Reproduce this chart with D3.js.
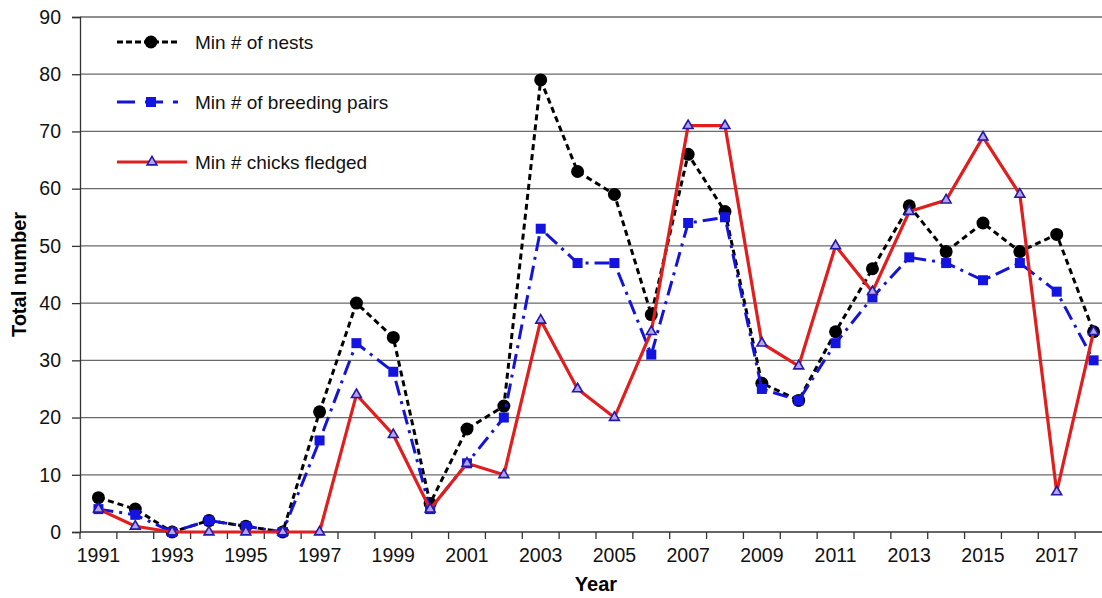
<!DOCTYPE html>
<html>
<head>
<meta charset="utf-8">
<script src="https://cdn.jsdelivr.net/npm/d3@7"></script>
<style>
  html, body { margin: 0; padding: 0; background: #fff; }
  svg { display: block; font-family: "Liberation Sans", Arial, sans-serif; }
</style>
</head>
<body>
<div id="chart"></div>
<script>
// Seabird nesting counts by year
const years = d3.range(1991, 2019);
const nests = [6, 4, 0, 2, 1, 0, 21, 40, 34, 5, 18, 22, 79, 63, 59, 38, 66, 56, 26, 23, 35, 46, 57, 49, 54, 49, 52, 35];
const pairs = [4, 3, 0, 2, 1, 0, 16, 33, 28, 4, 12, 20, 53, 47, 47, 31, 54, 55, 25, 23, 33, 41, 48, 47, 44, 47, 42, 30];
const chicks = [4, 1, 0, 0, 0, 0, 0, 24, 17, 4, 12, 10, 37, 25, 20, 35, 71, 71, 33, 29, 50, 42, 56, 58, 69, 59, 7, 35];
const yTicks = [0, 10, 20, 30, 40, 50, 60, 70, 80, 90];
const seriesNames = ['Min # of nests', 'Min # of breeding pairs', 'Min # chicks fledged'];

const W = 1102, H = 598;
const plot = { left: 80, right: 1112, top: 17, bottom: 532 };

const svg = d3.select('#chart').append('svg')
  .attr('width', W)
  .attr('height', H);

const x = d3.scaleBand()
  .domain(years)
  .range([plot.left, plot.right]);
const y = d3.scaleLinear()
  .domain([0, 90])
  .range([plot.bottom, plot.top]);

// gridlines
svg.append('g')
  .selectAll('line')
  .data(yTicks.filter(d => d > 0))
  .join('line')
    .attr('x1', plot.left).attr('x2', plot.right)
    .attr('y1', d => y(d)).attr('y2', d => y(d))
    .attr('stroke', '#6a6a6a')
    .attr('stroke-width', 1.3);

// y axis
const yAxis = svg.append('g')
  .attr('transform', `translate(${plot.left},0)`)
  .call(d3.axisLeft(y).tickValues(yTicks).tickSize(8).tickPadding(11));
yAxis.select('.domain').attr('stroke', '#333').attr('stroke-width', 1.3);
yAxis.selectAll('.tick line').attr('stroke', '#333').attr('stroke-width', 1.3);
yAxis.selectAll('text').attr('font-size', 19.5).attr('fill', '#111');

// x axis: ticks on category boundaries, labels on odd years
const xAxis = svg.append('g')
  .attr('transform', `translate(0,${plot.bottom})`);
xAxis.append('line')
  .attr('x1', plot.left).attr('x2', plot.right)
  .attr('stroke', '#333').attr('stroke-width', 1.3);
xAxis.selectAll('.tk')
  .data(years.concat([2019]))
  .join('line')
    .attr('class', 'tk')
    .attr('x1', d => d === 2019 ? plot.right : x(d))
    .attr('x2', d => d === 2019 ? plot.right : x(d))
    .attr('y1', 0).attr('y2', 7)
    .attr('stroke', '#333').attr('stroke-width', 1.3);
xAxis.selectAll('.lbl')
  .data(years.filter(d => d % 2 === 1))
  .join('text')
    .attr('class', 'lbl')
    .attr('x', d => x(d) + x.bandwidth() / 2)
    .attr('y', 30)
    .attr('text-anchor', 'middle')
    .attr('font-size', 19.5)
    .attr('fill', '#111')
    .text(d => d);

// axis titles
svg.append('text')
  .attr('x', (plot.left + plot.right) / 2)
  .attr('y', 591)
  .attr('text-anchor', 'middle')
  .attr('font-size', 20).attr('font-weight', 'bold')
  .text('Year');
svg.append('text')
  .attr('transform', `translate(26,${(plot.top + plot.bottom) / 2}) rotate(-90)`)
  .attr('text-anchor', 'middle')
  .attr('font-size', 20).attr('font-weight', 'bold')
  .text('Total number');

const cx = (d, i) => x(years[i]) + x.bandwidth() / 2;
const line = d3.line().x((d, i) => cx(d, i)).y(d => y(d));

const styles = [
  { data: nests, color: '#000', dash: '6,4', width: 3 },
  { data: pairs, color: '#1414d8', dash: '15,6,3,6', width: 3 },
  { data: chicks, color: '#e01e1e', dash: null, width: 3.2 }
];

const tri = d3.symbol().type(d3.symbolTriangle).size(42);

function drawMarker(g, idx, px, py) {
  if (idx === 0) {
    g.append('circle').attr('cx', px).attr('cy', py).attr('r', 6.5).attr('fill', '#000');
  } else if (idx === 1) {
    g.append('rect').attr('x', px - 5).attr('y', py - 5).attr('width', 10).attr('height', 10)
      .attr('fill', '#1414e0');
  } else {
    g.append('path').attr('d', tri).attr('transform', `translate(${px},${py})`)
      .attr('fill', '#b4a4ea').attr('stroke', '#2418a8').attr('stroke-width', 1.6);
  }
}

styles.forEach((s, idx) => {
  const g = svg.append('g');
  g.append('path')
    .datum(s.data)
    .attr('d', line)
    .attr('fill', 'none')
    .attr('stroke', s.color)
    .attr('stroke-width', s.width)
    .attr('stroke-dasharray', s.dash);
  s.data.forEach((v, i) => drawMarker(g, idx, cx(v, i), y(v)));
});

// legend
const legendRows = [
  { y: 42, x1: 117, x2: 180, mx: 151 },
  { y: 102, x1: 117, x2: 178, mx: 151 },
  { y: 162, x1: 117, x2: 187, mx: 152 }
];
legendRows.forEach((r, idx) => {
  const g = svg.append('g');
  g.append('line')
    .attr('x1', r.x1).attr('x2', r.x2).attr('y1', r.y).attr('y2', r.y)
    .attr('stroke', styles[idx].color)
    .attr('stroke-width', styles[idx].width)
    .attr('stroke-dasharray', idx === 0 ? '6,3' : (idx === 1 ? '18,10' : null));
  drawMarker(g, idx, r.mx, r.y);
  g.append('text')
    .attr('x', 195).attr('y', r.y + 7)
    .attr('font-size', 19).attr('fill', '#111')
    .text(seriesNames[idx]);
});
</script>
</body>
</html>
